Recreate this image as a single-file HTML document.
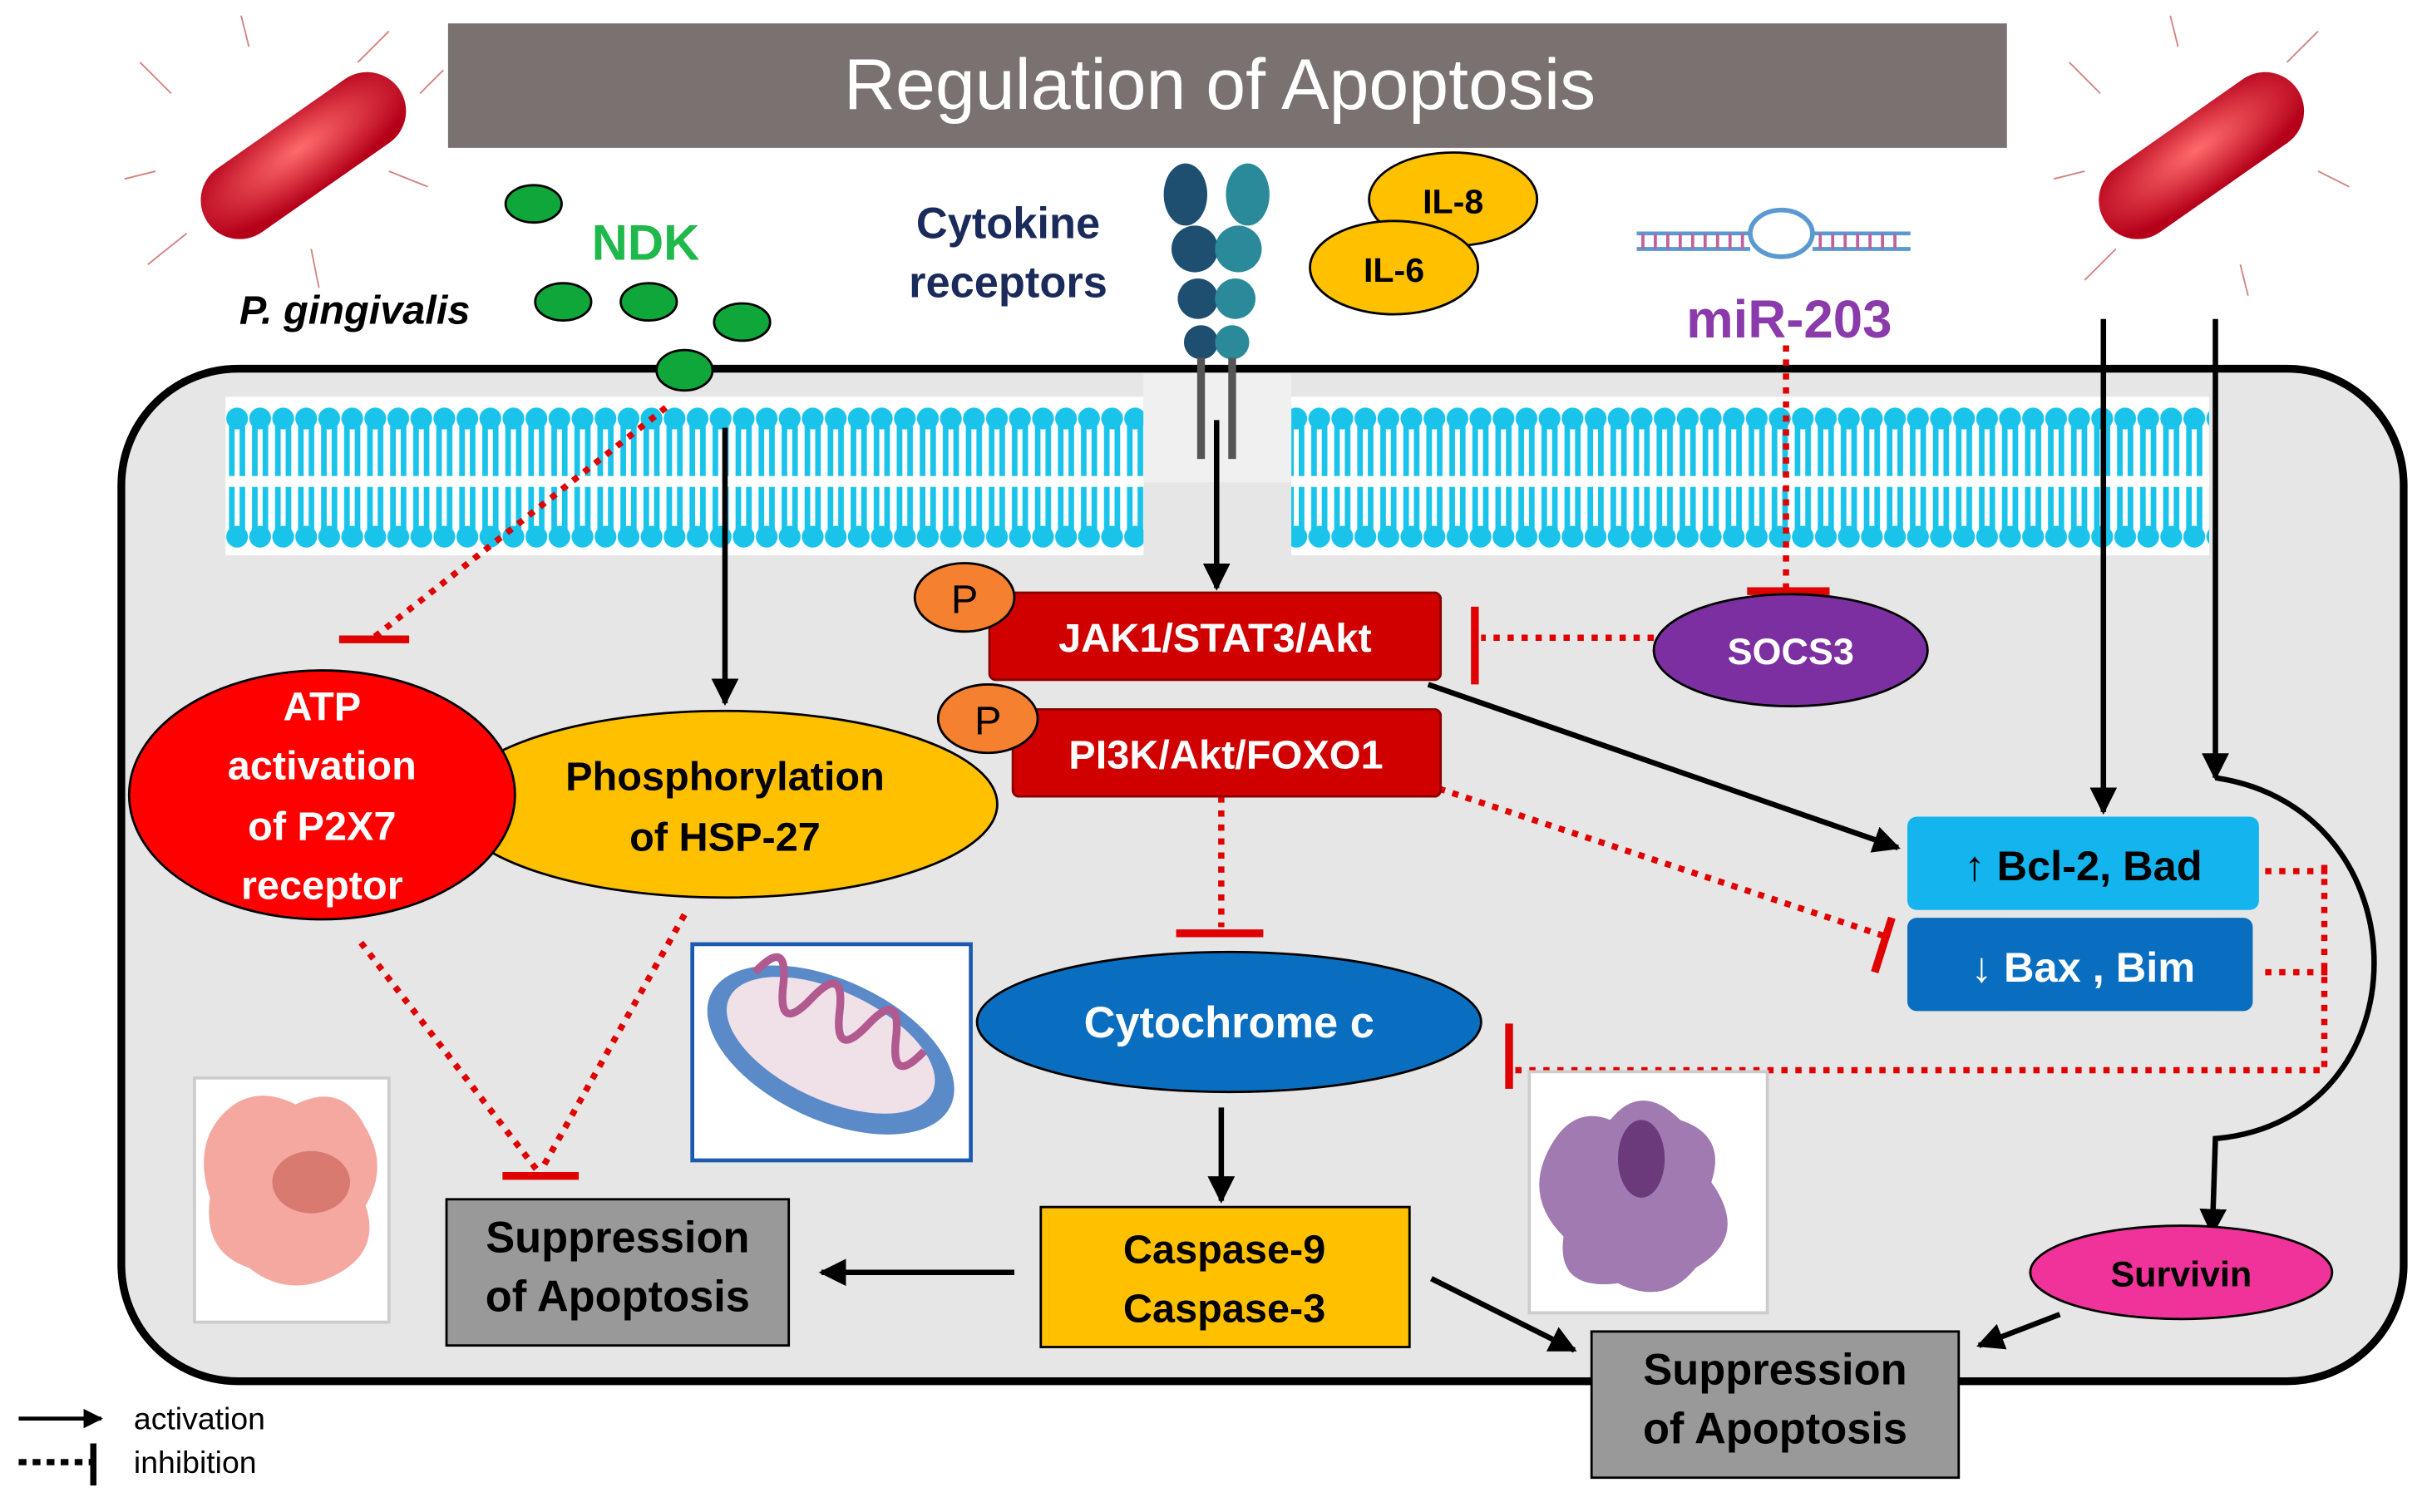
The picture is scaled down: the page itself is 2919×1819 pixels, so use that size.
<!DOCTYPE html>
<html><head><meta charset="utf-8"><style>
html,body{margin:0;padding:0;background:#fff}
svg{display:block}
text{font-family:"Liberation Sans",sans-serif;font-weight:bold}
</style></head><body>
<svg width="2919" height="1819" viewBox="0 0 1560 972" xmlns="http://www.w3.org/2000/svg">
<defs>
<pattern id="lip" x="145" y="258" width="14.8" height="100" patternUnits="userSpaceOnUse">
<circle cx="7.4" cy="11" r="7" fill="#19c3ea"/>
<path d="M4,14 V48 M10.8,14 V48" stroke="#19c3ea" stroke-width="3.6" fill="none"/>
<path d="M4,55 V84 M10.8,55 V84" stroke="#19c3ea" stroke-width="3.6" fill="none"/>
<circle cx="7.4" cy="87" r="7" fill="#19c3ea"/>
</pattern>
<marker id="ah" viewBox="0 0 10 10" refX="9" refY="5" markerWidth="5" markerHeight="5" orient="auto"><path d="M0,0 L10,5 L0,10 z" fill="#000"/></marker>
<radialGradient id="bac" cx="50%" cy="40%" r="60%"><stop offset="0" stop-color="#ff6b6b"/><stop offset="1" stop-color="#b5001a"/></radialGradient>
</defs>
<rect width="1560" height="972" fill="#fff"/>
<rect x="288" y="15" width="1002" height="80" fill="#797270"/>
<text x="784" y="70" font-size="46" fill="#fff" text-anchor="middle" style="font-weight:normal">Regulation  of  Apoptosis</text>
<g stroke="#c05050" stroke-width="1" opacity="0.7">
<path d="M110,60 L90,40 M120,150 L95,170 M230,40 L250,20 M250,110 L275,120 M160,30 L155,10 M200,160 L205,185 M100,110 L80,115 M270,60 L285,45"/>
<path d="M1350,60 L1330,40 M1360,160 L1340,180 M1470,40 L1490,20 M1490,110 L1510,120 M1400,30 L1395,10 M1440,170 L1445,190 M1340,110 L1320,115"/>
</g>
<rect x="120" y="75" width="150" height="50" rx="25" fill="url(#bac)" transform="rotate(-35 195 100)"/>
<rect x="1340" y="75" width="150" height="50" rx="25" fill="url(#bac)" transform="rotate(-35 1415 100)"/>
<text x="228" y="208" font-size="26" font-style="italic" text-anchor="middle">P. gingivalis</text>
<g fill="#0fa63a" stroke="#000" stroke-width="1.5">
<ellipse cx="343" cy="131" rx="18" ry="12"/><ellipse cx="362" cy="194" rx="18" ry="12"/>
<ellipse cx="417" cy="194" rx="18" ry="12"/><ellipse cx="477" cy="207" rx="18" ry="12"/>
</g>
<text x="415" y="167" font-size="32" fill="#1fb84a" text-anchor="middle">NDK</text>
<text x="648" y="153" font-size="28" fill="#1a2a5a" text-anchor="middle">Cytokine</text>
<text x="648" y="191" font-size="28" fill="#1a2a5a" text-anchor="middle">receptors</text>
<ellipse cx="934" cy="128" rx="54" ry="30" fill="#ffc000" stroke="#000" stroke-width="1.5"/>
<text x="934" y="137" font-size="22" text-anchor="middle">IL-8</text>
<ellipse cx="896" cy="172" rx="54" ry="30" fill="#ffc000" stroke="#000" stroke-width="1.5"/>
<text x="896" y="181" font-size="22" text-anchor="middle">IL-6</text>
<path d="M1052,150 H1125 M1165,150 H1228 M1052,160 H1125 M1165,160 H1228" stroke="#5a9ad0" stroke-width="2.5"/>
<ellipse cx="1145" cy="150" rx="20" ry="15" fill="none" stroke="#5a9ad0" stroke-width="3"/>
<path d="M1056,150 V160 M1064,150 V160 M1072,150 V160 M1080,150 V160 M1088,150 V160 M1096,150 V160 M1104,150 V160 M1112,150 V160 M1120,150 V160 M1170,150 V160 M1178,150 V160 M1186,150 V160 M1194,150 V160 M1202,150 V160 M1210,150 V160 M1218,150 V160" stroke="#c060a0" stroke-width="2"/>
<text x="1150" y="217" font-size="34" fill="#8a3aaa" text-anchor="middle">miR-203</text>
<rect x="78" y="237" width="1467" height="651" rx="75" fill="#e6e6e6" stroke="#000" stroke-width="5"/>
<rect x="145" y="255" width="590" height="102" fill="#fff"/>
<rect x="145" y="255" width="590" height="102" fill="url(#lip)"/>
<rect x="830" y="255" width="590" height="102" fill="#fff"/>
<rect x="830" y="255" width="590" height="102" fill="url(#lip)"/>
<rect x="735" y="240" width="95" height="70" fill="#f0f0f0"/>
<g fill="#1f4f70"><ellipse cx="762" cy="125" rx="14" ry="20"/><ellipse cx="768" cy="160" rx="15" ry="15"/><ellipse cx="770" cy="192" rx="13" ry="13"/><ellipse cx="772" cy="220" rx="11" ry="11"/></g>
<g fill="#2a8a9a"><ellipse cx="802" cy="125" rx="14" ry="20"/><ellipse cx="796" cy="160" rx="15" ry="15"/><ellipse cx="794" cy="192" rx="13" ry="13"/><ellipse cx="792" cy="220" rx="11" ry="11"/></g>
<path d="M772,230 V295 M792,230 V295" stroke="#555" stroke-width="5"/>
<ellipse cx="440" cy="238" rx="18" ry="13" fill="#0fa63a" stroke="#000" stroke-width="1.5"/>
<g stroke="#e00000" stroke-width="4" stroke-dasharray="4,5" fill="none">
<path d="M428,262 L240,410"/>
<path d="M1148,222 V378"/>
<path d="M1063,410 H952"/>
<path d="M785,512 V596"/>
<path d="M925,507 L1212,602"/>
<path d="M232,606 L345,752"/>
<path d="M440,588 L348,752"/>
<path d="M1456,560 H1496 M1456,625 H1496 M1494,556 V688 H974"/>
</g>
<g stroke="#e00000" stroke-width="5">
<path d="M218,411 H263"/><path d="M1123,380 H1176"/><path d="M948,390 V440"/>
<path d="M756,600 H812"/><path d="M1216,590 L1205,625"/><path d="M323,756 H372"/><path d="M970,658 V700"/>
</g>
<g stroke="#000" stroke-width="3.5" fill="none" marker-end="url(#ah)">
<path d="M466,275 V452"/>
<path d="M782,270 V378"/>
<path d="M918,440 L1220,545"/>
<path d="M1352,205 V522"/>
<path d="M1424,205 V500"/>
<path d="M785,712 V772"/>
<path d="M652,818 H528"/>
<path d="M920,822 L1012,868"/>
<path d="M1324,845 L1272,865"/>
<path d="M1424,500 C1560,520 1560,720 1424,732 L1422,793"/>
</g>
<ellipse cx="466" cy="517" rx="175" ry="60" fill="#ffc000" stroke="#000" stroke-width="1.5"/>
<text x="466" y="508" font-size="26" text-anchor="middle">Phosphorylation</text>
<text x="466" y="547" font-size="26" text-anchor="middle">of HSP-27</text>
<ellipse cx="207" cy="511" rx="124" ry="80" fill="#ff0000" stroke="#000" stroke-width="1.5"/>
<g fill="#fff" font-size="26" text-anchor="middle"><text x="207" y="463">ATP</text><text x="207" y="501">activation</text><text x="207" y="540">of P2X7</text><text x="207" y="578">receptor</text></g>
<rect x="636" y="381" width="290" height="56" rx="4" fill="#d00000" stroke="#800" stroke-width="1.5"/>
<text x="781" y="419" font-size="26" fill="#fff" text-anchor="middle">JAK1/STAT3/Akt</text>
<ellipse cx="620" cy="384" rx="32" ry="22" fill="#f58030" stroke="#000" stroke-width="1.5"/>
<text x="620" y="394" font-size="26" text-anchor="middle" style="font-weight:normal">P</text>
<rect x="651" y="456" width="275" height="56" rx="4" fill="#d00000" stroke="#800" stroke-width="1.5"/>
<text x="788" y="494" font-size="26" fill="#fff" text-anchor="middle">PI3K/Akt/FOXO1</text>
<ellipse cx="635" cy="462" rx="32" ry="22" fill="#f58030" stroke="#000" stroke-width="1.5"/>
<text x="635" y="472" font-size="26" text-anchor="middle" style="font-weight:normal">P</text>
<ellipse cx="1151" cy="418" rx="88" ry="36" fill="#7b2fa0" stroke="#000" stroke-width="1.5"/>
<text x="1151" y="427" font-size="24" fill="#fff" text-anchor="middle">SOCS3</text>
<rect x="1226" y="525" width="226" height="60" rx="6" fill="#14b4ee"/>
<text x="1339" y="566" font-size="27" text-anchor="middle">↑ Bcl-2, Bad</text>
<rect x="1226" y="590" width="222" height="60" rx="6" fill="#0a6ec0"/>
<text x="1339" y="631" font-size="27" fill="#fff" text-anchor="middle">↓ Bax , Bim</text>
<ellipse cx="790" cy="657" rx="162" ry="45" fill="#0a6ec0" stroke="#000" stroke-width="1.5"/>
<text x="790" y="667" font-size="28" fill="#fff" text-anchor="middle">Cytochrome c</text>
<rect x="669" y="776" width="237" height="90" fill="#ffc000" stroke="#000" stroke-width="1.5"/>
<text x="787" y="812" font-size="26" text-anchor="middle">Caspase-9</text>
<text x="787" y="850" font-size="26" text-anchor="middle">Caspase-3</text>
<rect x="287" y="771" width="220" height="94" fill="#999" stroke="#000" stroke-width="1.5"/>
<text x="397" y="805" font-size="28" text-anchor="middle">Suppression</text>
<text x="397" y="843" font-size="28" text-anchor="middle">of Apoptosis</text>
<rect x="1023" y="856" width="236" height="94" fill="#999" stroke="#000" stroke-width="1.5"/>
<text x="1141" y="890" font-size="28" text-anchor="middle">Suppression</text>
<text x="1141" y="928" font-size="28" text-anchor="middle">of Apoptosis</text>
<ellipse cx="1402" cy="818" rx="97" ry="30" fill="#f0339a" stroke="#000" stroke-width="1.5"/>
<text x="1402" y="827" font-size="23" text-anchor="middle">Survivin</text>
<rect x="445" y="607" width="179" height="139" fill="#fff" stroke="#1a5ab0" stroke-width="2.5"/>
<ellipse cx="534" cy="675" rx="85" ry="45" fill="#5a8ac8" transform="rotate(25 534 675)"/>
<ellipse cx="534" cy="672" rx="72" ry="35" fill="#f0e0e8" transform="rotate(25 534 672)"/>
<path d="M470,650 q10,-30 20,0 q10,30 20,0 q10,-30 20,0 q10,30 20,0 q10,-30 20,0 q10,30 20,0" stroke="#b05a90" stroke-width="5" fill="none" transform="rotate(25 534 672)"/>
<rect x="125" y="693" width="125" height="157" fill="#fff" stroke="#ccc" stroke-width="2"/>
<path d="M140,720 q20,-25 50,-10 q30,-15 45,15 q15,25 0,50 q10,30 -20,45 q-30,15 -55,-5 q-30,-10 -25,-45 q-10,-30 5,-50z" fill="#f4a8a0"/>
<ellipse cx="200" cy="760" rx="25" ry="20" fill="#d87a70"/>
<rect x="983" y="689" width="153" height="155" fill="#fff" stroke="#ccc" stroke-width="2"/>
<path d="M995,740 q15,-30 40,-20 q20,-25 45,0 q30,10 20,40 q25,35 -10,55 q-20,25 -50,10 q-40,5 -35,-30 q-25,-25 -10,-55z" fill="#a07ab0"/>
<ellipse cx="1055" cy="745" rx="15" ry="25" fill="#6a3a7a"/>
<path d="M12,912 H65" stroke="#000" stroke-width="2.5" marker-end="url(#ah)"/>
<text x="86" y="919" font-size="20" style="font-weight:normal">activation</text>
<path d="M12,940 H58" stroke="#000" stroke-width="4" stroke-dasharray="5,4"/>
<path d="M60,928 V955" stroke="#000" stroke-width="4"/>
<text x="86" y="947" font-size="20" style="font-weight:normal">inhibition</text>
</svg>
</body></html>
